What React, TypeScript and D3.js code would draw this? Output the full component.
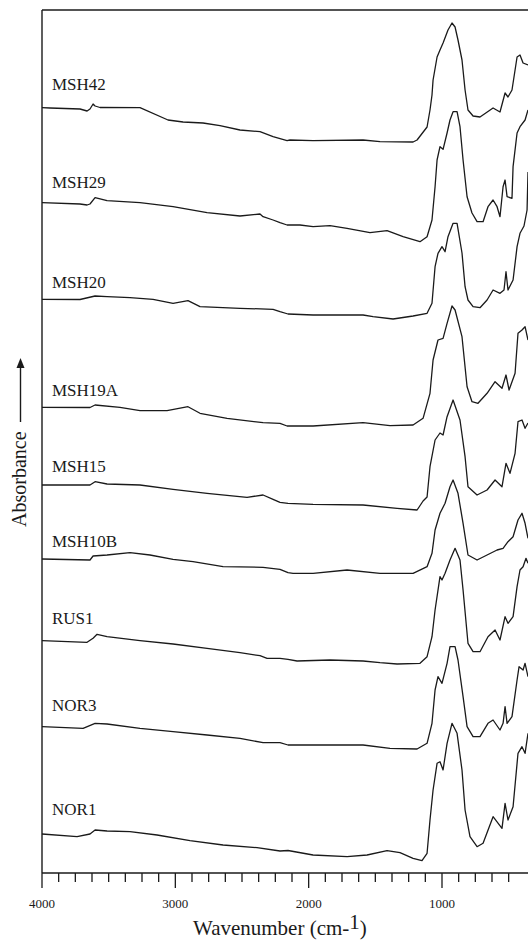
import React from "react";
import * as d3 from "d3";

type Pt = [number, number];

// Sample names (top to bottom)
const SAMPLES = ["MSH42", "MSH29", "MSH20", "MSH19A", "MSH15", "MSH10B", "RUS1", "NOR3", "NOR1"];

// Stacked FTIR spectra: [wavenumber (cm-1), absorbance (arbitrary, stacked units)]
const MSH42: Pt[] = [
  [4000, 765.3], [3940, 765], [3715, 764], [3662, 762], [3640, 764], [3617, 769], [3602, 767], [3565, 765.5],
  [3265, 765.3], [3055, 753], [2942, 751], [2792, 750], [2665, 747.3], [2515, 743], [2365, 741.3], [2267, 736.3],
  [2162, 732.3], [2140, 733], [1967, 732.3], [1592, 733], [1465, 731.3], [1217, 731], [1187, 733], [1112, 746],
  [1090, 763], [1075, 778], [1067, 793], [1037, 816], [1015, 823], [992, 830], [955, 843], [925, 850], [902, 846],
  [880, 833], [850, 813], [827, 783], [805, 763], [767, 757], [715, 756], [617, 765], [565, 761], [527, 780],
  [505, 776], [475, 783], [437, 816], [415, 818], [392, 810], [355, 808],
];
const MSH29: Pt[] = [
  [4000, 670.3], [3715, 669], [3662, 668], [3640, 669], [3602, 675.3], [3512, 672.3], [3265, 670.3], [3017, 666.3],
  [2762, 660.3], [2515, 657], [2365, 659], [2342, 656.3], [2267, 653], [2215, 650.3], [2162, 648], [2065, 648],
  [1967, 646.3], [1840, 647.3], [1712, 644.7], [1540, 640.3], [1412, 642.3], [1292, 636.3], [1165, 631.3],
  [1112, 636.3], [1075, 653], [1052, 686.3], [1037, 713], [1015, 726.3], [992, 723.7], [962, 740], [940, 753],
  [917, 761.3], [887, 761.3], [865, 746.3], [842, 713], [812, 676.3], [775, 660], [737, 651.3], [692, 651.3],
  [655, 666.3], [617, 673], [587, 666.3], [565, 656.3], [542, 686.3], [527, 693], [512, 676.3], [475, 674.7],
  [467, 706.3], [437, 740], [415, 746.3], [377, 753], [355, 763],
];
const MSH20: Pt[] = [
  [4000, 573.7], [3715, 573.5], [3602, 577], [3512, 576.3], [3340, 575.3], [3167, 573.7], [3017, 569.7],
  [2905, 572.3], [2815, 566.3], [2515, 564.7], [2267, 563.7], [2215, 561.3], [2155, 559], [1967, 558], [1592, 558],
  [1517, 556.3], [1367, 554], [1217, 557], [1112, 559.7], [1075, 569.7], [1052, 606.3], [1030, 619.7], [1000, 626.3],
  [977, 621.3], [955, 636.3], [917, 649.7], [887, 649.7], [850, 620], [827, 586.3], [805, 573], [767, 566.3],
  [715, 565.3], [662, 573], [617, 583], [565, 579.7], [535, 583], [520, 601.3], [505, 583], [467, 593], [437, 626.3],
  [415, 639.7], [385, 647], [362, 663], [355, 701],
];
const MSH19A: Pt[] = [
  [4000, 465.7], [3640, 465.5], [3602, 468], [3415, 465.7], [3265, 462.3], [3062, 462.3], [2905, 466.3],
  [2815, 459.7], [2612, 454.7], [2342, 450.3], [2215, 449.7], [2162, 447], [1967, 447], [1592, 450.3], [1390, 447.3],
  [1217, 448], [1142, 454.7], [1090, 479.7], [1067, 513], [1030, 533], [992, 534.7], [962, 549.7], [925, 567],
  [902, 563], [850, 536.3], [812, 486.3], [775, 471.3], [730, 469.7], [662, 479.7], [602, 491.3], [550, 484.7],
  [520, 498], [497, 483], [452, 499.7], [430, 539.7], [400, 543], [377, 546.3], [355, 533],
];
const MSH15: Pt[] = [
  [4000, 388], [3640, 388], [3602, 391.3], [3512, 389], [3265, 388], [3017, 383.7], [2762, 379.7], [2462, 375.7],
  [2342, 378], [2267, 373.7], [2215, 370.7], [2155, 369.7], [1967, 368.7], [1592, 368], [1337, 364.7], [1187, 363],
  [1142, 372], [1112, 376], [1090, 406.3], [1052, 433], [1015, 440], [992, 438], [962, 456.3], [917, 473],
  [865, 453], [827, 416.3], [805, 386.3], [737, 378], [662, 383], [602, 393], [550, 386.3], [520, 409.7],
  [490, 399.7], [452, 419.7], [430, 451.3], [400, 453], [377, 444.7], [355, 450],
];
const MSH10B: Pt[] = [
  [4000, 314], [3640, 313], [3617, 317], [3512, 318], [3340, 320.3], [3190, 318], [3017, 313.7], [2867, 311.3],
  [2642, 306.3], [2342, 305.7], [2215, 303.7], [2155, 300.3], [2117, 299.7], [1967, 299.7], [1712, 303],
  [1465, 299.7], [1217, 299.7], [1112, 306.3], [1075, 319.7], [1052, 343], [1015, 359.7], [977, 369.7],
  [940, 386.3], [917, 393], [880, 379.7], [842, 349.7], [805, 318], [737, 313], [662, 318], [587, 323],
  [542, 324.7], [505, 331.3], [467, 336.3], [430, 353], [400, 359.7], [377, 349.7], [355, 334.7],
];
const RUS1: Pt[] = [
  [4000, 232.3], [3662, 230.7], [3617, 234.7], [3587, 238.7], [3512, 236.3], [3265, 232.3], [3017, 229],
  [2762, 224.7], [2515, 220.3], [2365, 217.3], [2312, 214.7], [2215, 214.7], [2155, 213.7], [2087, 212],
  [1840, 213], [1592, 212], [1465, 210.3], [1337, 209], [1165, 209.7], [1112, 216.3], [1075, 236.3], [1052, 263],
  [1015, 296.3], [1000, 293], [977, 299.7], [940, 313], [902, 324.7], [865, 313], [842, 283], [805, 229.7],
  [767, 221.3], [715, 221.3], [655, 236.3], [602, 243], [565, 233], [527, 256.3], [505, 249.7], [467, 256.3],
  [437, 286.3], [415, 303], [392, 306.3], [370, 314.7], [355, 309.7],
];
const NOR3: Pt[] = [
  [4000, 146.3], [3692, 144.7], [3602, 149.7], [3512, 149], [3265, 144.7], [3017, 141.3], [2762, 138],
  [2515, 134.7], [2342, 130.3], [2215, 130.3], [2155, 128], [1967, 128], [1592, 128], [1390, 124.7], [1187, 124],
  [1112, 129.7], [1075, 149.7], [1052, 183], [1030, 196.3], [1000, 189.7], [962, 209.7], [940, 226.3],
  [902, 226.3], [880, 213], [842, 176.3], [812, 146.3], [767, 136.3], [715, 136.3], [655, 149.7], [617, 153],
  [565, 143], [542, 149.7], [527, 166.3], [512, 149.7], [475, 156.3], [437, 193], [422, 206.3], [392, 203],
  [377, 209.7], [355, 196.3],
];
const NOR1: Pt[] = [
  [4000, 39], [3737, 36.3], [3640, 39], [3602, 43], [3512, 42], [3340, 41.3], [3137, 38], [2890, 32.3], [2642, 28],
  [2387, 25.3], [2215, 22], [2155, 22.5], [1967, 18], [1712, 16.3], [1562, 18], [1412, 22.3], [1315, 20.3],
  [1217, 14.7], [1150, 12.3], [1112, 19.7], [1090, 53], [1067, 83], [1037, 109.7], [1015, 111.3], [992, 103],
  [962, 129.7], [925, 149.7], [887, 139.7], [850, 103], [827, 63], [790, 36.3], [737, 26.3], [692, 29.7],
  [617, 56.3], [550, 44.7], [527, 69.7], [505, 53], [467, 66.3], [430, 119.7], [400, 126.3], [377, 119.7],
  [355, 139.7],
];
const SPECTRA: Pt[][] = [MSH42, MSH29, MSH20, MSH19A, MSH15, MSH10B, RUS1, NOR3, NOR1];

// X axis
const X_DOMAIN: [number, number] = [4000, 355];
const MAJOR_TICKS = [4000, 3000, 2000, 1000];
const MINOR_STEP = 125;
const MIN_TICK = 500;
const Y_DOMAIN: [number, number] = [0, 863];

export default function App() {
  const W = 528;
  const H = 941;
  const left = 42;
  const right = 528;
  const top = 10;
  const bottom = 873;

  const x = d3.scaleLinear().domain(X_DOMAIN).range([left, right]);
  const y = d3.scaleLinear().domain(Y_DOMAIN).range([bottom, top]);
  const line = d3
    .line<Pt>()
    .x((d) => x(d[0]))
    .y((d) => y(d[1]));

  const allTicks = d3.range(X_DOMAIN[0], MIN_TICK - 1, -MINOR_STEP);
  const labelGap = [18, 15, 11, 11, 13, 12, 17, 16, 19];
  const font = "'Liberation Serif', 'Times New Roman', serif";
  const ink = "#1a1a1a";

  return (
    <svg
      width={W}
      height={H}
      style={{ position: "absolute", left: 0, top: 0, background: "#fff" }}
      fontFamily={font}
    >
      <defs>
        <clipPath id="plot">
          <rect x={left} y={top} width={right - left} height={bottom - top} />
        </clipPath>
      </defs>
      <rect x={0} y={0} width={W} height={H} fill="#fff" />

      {/* frame */}
      <line x1={left} y1={top} x2={right} y2={top} stroke={ink} strokeWidth={1.4} />
      <line x1={left} y1={top} x2={left} y2={bottom} stroke={ink} strokeWidth={1.4} />
      <line x1={left} y1={bottom} x2={right} y2={bottom} stroke={ink} strokeWidth={1.4} />

      {/* ticks */}
      {allTicks.map((t) => {
        const major = MAJOR_TICKS.includes(t);
        return (
          <line
            key={t}
            x1={x(t)}
            x2={x(t)}
            y1={bottom}
            y2={bottom + (major ? 15 : 9)}
            stroke={ink}
            strokeWidth={1.3}
          />
        );
      })}
      {MAJOR_TICKS.map((t) => (
        <text key={t} x={x(t)} y={908} fontSize={13} textAnchor="middle" fill={ink}>
          {t}
        </text>
      ))}

      {/* x title */}
      <text x={193} y={935} fontSize={21} fill={ink}>
        Wavenumber (cm-
        <tspan dy={-6}>1</tspan>
        <tspan dy={6}>)</tspan>
      </text>

      {/* y title with arrow */}
      <text
        transform={`translate(26, 527) rotate(-90)`}
        fontSize={20}
        fill={ink}
      >
        Absorbance
      </text>
      <line x1={20.5} x2={20.5} y1={422} y2={366} stroke={ink} strokeWidth={1.4} />
      <path d={`M20.5,358 L16.5,368 L24.5,368 Z`} fill={ink} />

      {/* spectra */}
      <g clipPath="url(#plot)">
        {SPECTRA.map((s, i) => (
          <path key={SAMPLES[i]} d={line(s) || ""} fill="none" stroke={ink} strokeWidth={1.3} strokeLinejoin="round" />
        ))}
      </g>

      {/* labels */}
      {SPECTRA.map((s, i) => (
        <text key={SAMPLES[i]} x={52} y={y(s[0][1]) - labelGap[i]} fontSize={17} fill={ink}>
          {SAMPLES[i]}
        </text>
      ))}
    </svg>
  );
}
